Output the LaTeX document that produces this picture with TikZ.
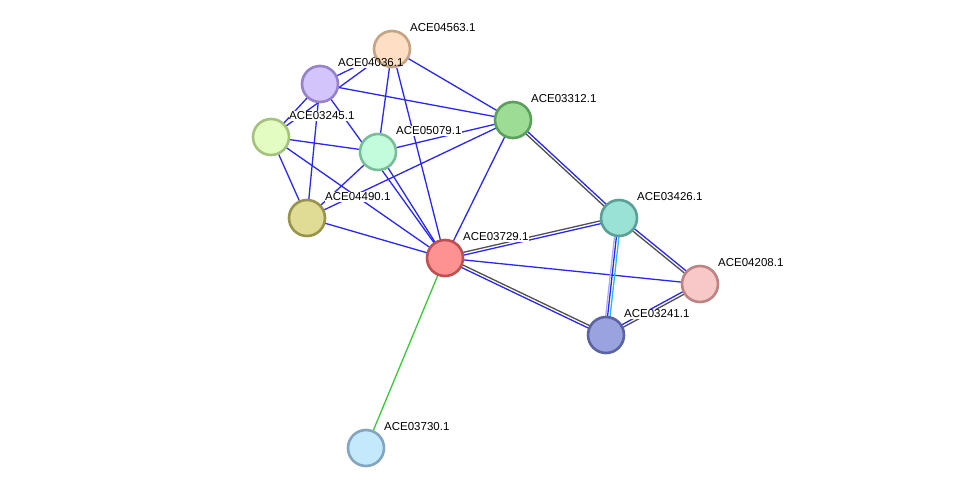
\documentclass[tikz,border=0pt]{standalone}
\usepackage{fontspec}
\setmainfont{Liberation Sans}
\usetikzlibrary{calc}
\definecolor{eblue}{RGB}{40,40,245}
\definecolor{egrey}{RGB}{80,80,80}
\definecolor{egreen}{RGB}{60,200,60}
\definecolor{ecyan}{RGB}{40,190,215}
\definecolor{elav}{RGB}{170,170,255}
\definecolor{f4563}{RGB}{254,222,196}\definecolor{b4563}{RGB}{196,164,130}
\definecolor{f4036}{RGB}{212,196,252}\definecolor{b4036}{RGB}{150,130,200}
\definecolor{f3245}{RGB}{226,252,194}\definecolor{b3245}{RGB}{164,194,124}
\definecolor{f5079}{RGB}{194,252,220}\definecolor{b5079}{RGB}{122,190,152}
\definecolor{f3312}{RGB}{156,220,148}\definecolor{b3312}{RGB}{90,160,90}
\definecolor{f4490}{RGB}{224,220,150}\definecolor{b4490}{RGB}{152,148,74}
\definecolor{f3729}{RGB}{254,146,146}\definecolor{b3729}{RGB}{190,80,80}
\definecolor{f3426}{RGB}{154,226,214}\definecolor{b3426}{RGB}{90,160,150}
\definecolor{f4208}{RGB}{248,200,200}\definecolor{b4208}{RGB}{190,130,130}
\definecolor{f3241}{RGB}{154,162,224}\definecolor{b3241}{RGB}{90,100,162}
\definecolor{f3730}{RGB}{196,232,252}\definecolor{b3730}{RGB}{130,165,192}
\tikzset{
  prot/.style={circle, minimum size=36pt, inner sep=0pt, line width=2.6pt},
  lab/.style={anchor=west, inner sep=0pt, font=\fontsize{11.5}{12}\selectfont},
  halo/.style={lab, fill=white, inner sep=0.6pt},
  edge/.style={line width=1.3pt},
}
\newcommand{\hl}[2]{%
  \node[halo] at ($(n#1)+(17.4,-21)$) {\phantom{#2}};}
\newcommand{\nd}[1]{%
  \node[prot, fill=f#1, draw=b#1] (n#1) at (n#1) {};}
\newcommand{\lb}[2]{%
  \node[lab] (l#1) at ($(n#1)+(18,-21)$) {#2};}
\newcommand{\dl}[4]{%
  \draw[edge,#3] ($(#1)!1.4pt!90:(#2)$) -- ($(#2)!1.4pt!-90:(#1)$);
  \draw[edge,#4] ($(#1)!1.4pt!-90:(#2)$) -- ($(#2)!1.4pt!90:(#1)$);}
\begin{document}
\begin{tikzpicture}[x=1pt,y=-1pt]
\useasboundingbox[fill=white] (0,0) rectangle (976,494);
% node centers
\coordinate (n4563) at (392,49);
\coordinate (n4036) at (320,84);
\coordinate (n3245) at (271,137);
\coordinate (n5079) at (378,152);
\coordinate (n3312) at (513,120);
\coordinate (n4490) at (307,218);
\coordinate (n3729) at (445,258);
\coordinate (n3426) at (619,218);
\coordinate (n4208) at (700,284);
\coordinate (n3241) at (606,335);
\coordinate (n3730) at (366,448);
% single blue edges
\foreach \a/\b in {4036/4563, 3245/4563, 4036/3245, 4036/3312,
  4036/4490, 4563/3312, 4563/5079, 4563/3729, 3245/5079, 3245/4490,
  3245/3729, 5079/3312, 5079/4490, 5079/3729, 4036/3729, 3312/4490,
  3312/3729, 4490/3729, 3729/4208}
  \draw[edge, eblue] (n\a) -- (n\b);
% double edges
\dl{n3729}{n3426}{egrey}{eblue}
\dl{n3312}{n3426}{eblue}{egrey}
\dl{n3729}{n3241}{egrey}{eblue}
\dl{n3426}{n4208}{eblue}{egrey}
\dl{n3241}{n4208}{eblue}{egrey}
% triple edge
\draw[edge, elav] ($(n3426)!2.4pt!-90:(n3241)$) -- ($(n3241)!2.4pt!90:(n3426)$);
\draw[edge, eblue] ($(n3426)!0.5pt!-90:(n3241)$) -- ($(n3241)!0.5pt!90:(n3426)$);
\draw[edge, ecyan] ($(n3426)!2.0pt!90:(n3241)$) -- ($(n3241)!2.0pt!-90:(n3426)$);
% green edge
\draw[edge, egreen] (n3729) -- (n3730);
% label backgrounds (hide edges under labels)
\hl{4563}{ACE04563.1}
\hl{4036}{ACE04036.1}
\hl{3245}{ACE03245.1}
\hl{5079}{ACE05079.1}
\hl{3312}{ACE03312.1}
\hl{4490}{ACE04490.1}
\hl{3729}{ACE03729.1}
\hl{3426}{ACE03426.1}
\hl{4208}{ACE04208.1}
\hl{3241}{ACE03241.1}
\hl{3730}{ACE03730.1}
% nodes
\foreach \n in {4563,4036,3245,5079,3312,4490,3729,3426,4208,3241,3730}
  {\nd{\n}}
% labels
\lb{4563}{ACE04563.1}
\lb{4036}{ACE04036.1}
\lb{3245}{ACE03245.1}
\lb{5079}{ACE05079.1}
\lb{3312}{ACE03312.1}
\lb{4490}{ACE04490.1}
\lb{3729}{ACE03729.1}
\lb{3426}{ACE03426.1}
\lb{4208}{ACE04208.1}
\lb{3241}{ACE03241.1}
\lb{3730}{ACE03730.1}
\end{tikzpicture}
\end{document}
